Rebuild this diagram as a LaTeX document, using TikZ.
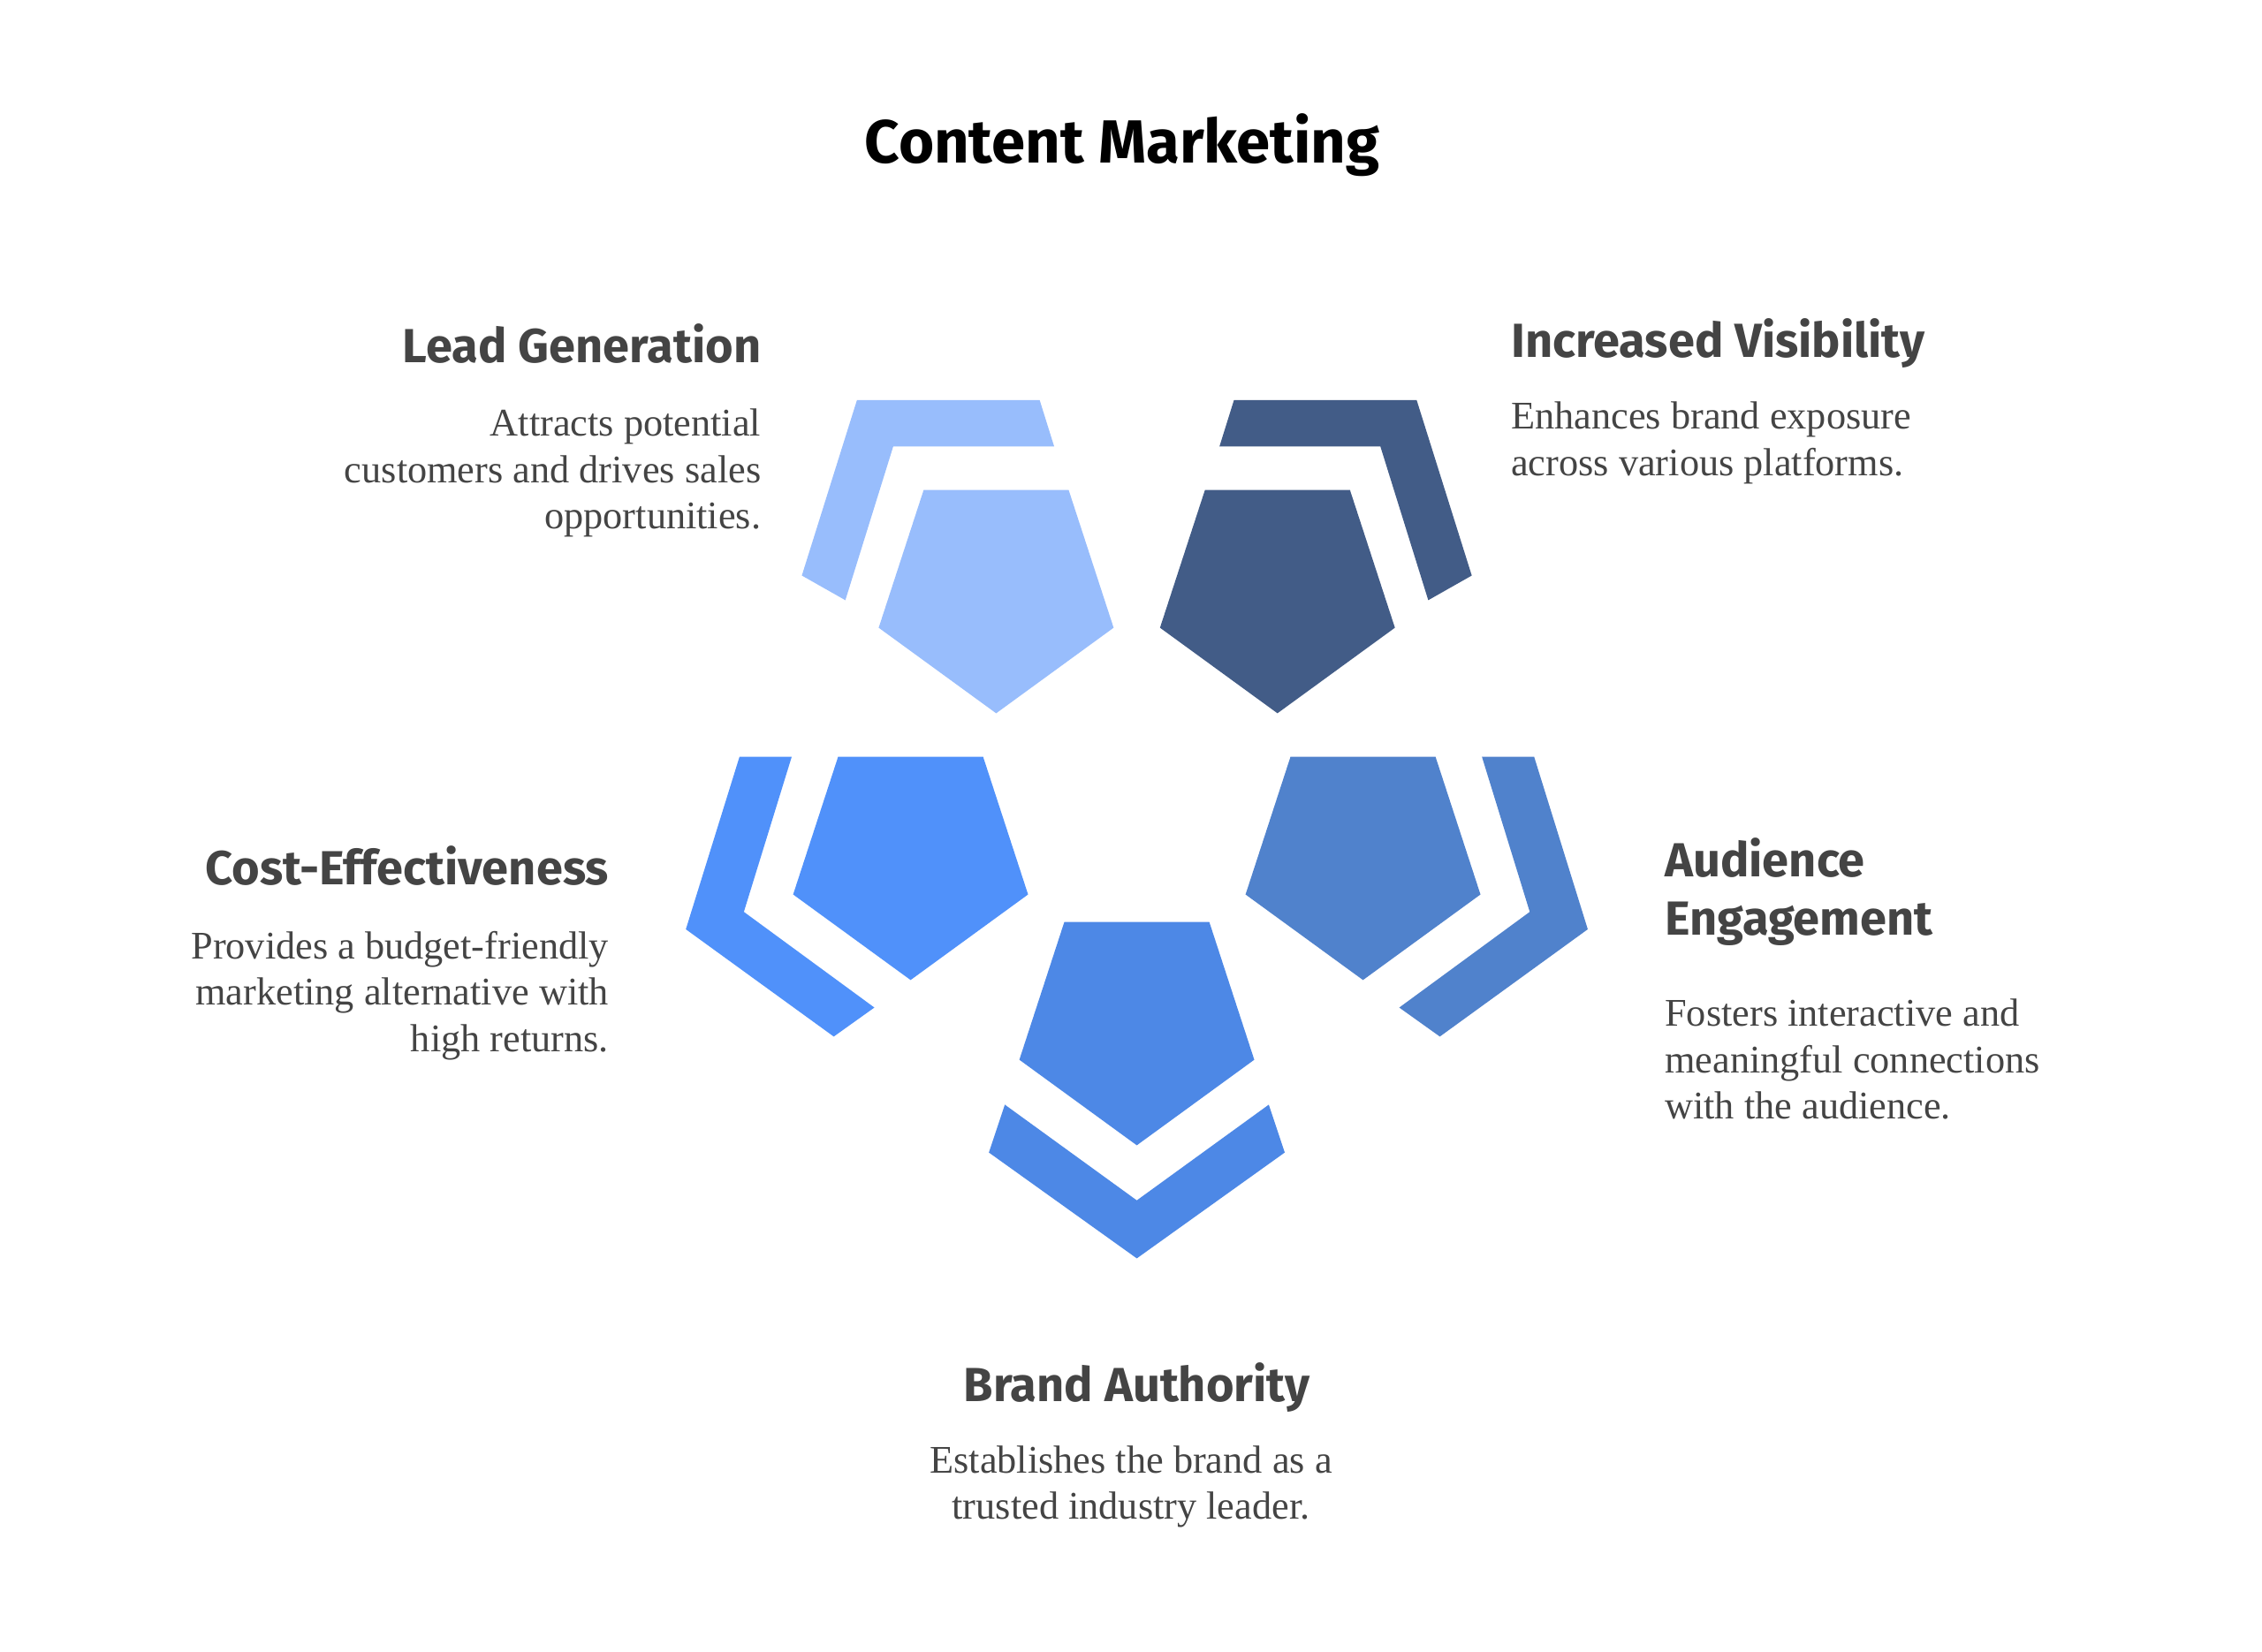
\documentclass[tikz,border=0pt]{standalone}
\usepackage{fontspec}
\setmainfont{Liberation Serif}
\newfontfamily\hfont{Fira Sans}
\definecolor{cLead}{HTML}{98BDFC}
\definecolor{cVis}{HTML}{425C87}
\definecolor{cCost}{HTML}{5091FA}
\definecolor{cAud}{HTML}{5082CC}
\definecolor{cBrand}{HTML}{4D88E6}
\definecolor{txt}{HTML}{444444}
\begin{document}
\begin{tikzpicture}[x=1pt,y=-1pt,
  head/.style={font=\hfont\bfseries\fontsize{33}{40}\selectfont, text=txt, inner sep=0pt},
  body/.style={font=\fontsize{27}{32}\selectfont, text=txt, inner sep=0pt},
  pent/.style={fill=#1, draw=none}]
\useasboundingbox (0,0) rectangle (1560,1139);
\fill[white] (0,0) rectangle (1560,1139);
% pentagons (pointing down), R=85
\newcommand{\pentag}[3]{%
  \fill[#3] ($(#1,#2)+(-50,-69)$) -- ++(100,0) -- ($(#1,#2)+(81,26)$) -- ($(#1,#2)+(0,85)$) -- ($(#1,#2)+(-81,26)$) -- cycle;}
\fill[cLead] (637,338) -- (737,338) -- (768,433) -- (687,492) -- (606,433) -- cycle;
\fill[cVis] (831,338) -- (931,338) -- (962,433) -- (881,492) -- (800,433) -- cycle;
\fill[cCost] (578,522) -- (678,522) -- (709,617) -- (628,676) -- (547,617) -- cycle;
\fill[cAud] (890,522) -- (990,522) -- (1021,617) -- (940,676) -- (859,617) -- cycle;
\fill[cBrand] (734,636) -- (834,636) -- (865,731) -- (784,790) -- (703,731) -- cycle;
% chevrons
\fill[cLead] (553,397) -- (591,276) -- (717,276) -- (727,308) -- (616,308) -- (583,414) -- cycle;
\fill[cVis] (1015,397) -- (977,276) -- (851,276) -- (841,308) -- (952,308) -- (985,414) -- cycle;
\fill[cCost] (510,522) -- (546,522) -- (513,629) -- (603,695) -- (575,715) -- (473,641) -- cycle;
\fill[cAud] (1058,522) -- (1022,522) -- (1055,629) -- (965,695) -- (993,715) -- (1095,641) -- cycle;
\fill[cBrand] (693,762) -- (784,828) -- (875,762) -- (886,795) -- (784,868) -- (682,795) -- cycle;
% texts
\node[font=\hfont\bfseries\fontsize{42}{48}\selectfont, text=black, inner sep=0pt] (title) at (774,100) {Content Marketing};
\node[head, anchor=east] (h1) at (525,237) {Lead Generation};
\node[body, anchor=north east, align=right] (b1) at (525,282) {Attracts potential\\customers and drives sales\\opportunities.};
\node[head, anchor=west] (h2) at (1042,237) {Increased Visibility};
\node[body, anchor=north west, align=left] (b2) at (1042,277) {Enhances brand exposure\\across various platforms.};
\node[head, anchor=east] (h3) at (420,597) {Cost-Effectiveness};
\node[body, anchor=north east, align=right] (b3) at (420,642) {Provides a budget-friendly\\marketing alternative with\\high returns.};
\node[head, anchor=north west, align=left] (h4) at (1148,578) {Audience\\Engagement};
\node[body, anchor=north west, align=left] (b4) at (1148,689) {Fosters interactive and\\meaningful connections\\with the audience.};
\node[head, anchor=center] (h5) at (784,957) {Brand Authority};
\node[body, anchor=north, align=center] (b5) at (780,997) {Establishes the brand as a\\trusted industry leader.};
\end{tikzpicture}
\end{document}
